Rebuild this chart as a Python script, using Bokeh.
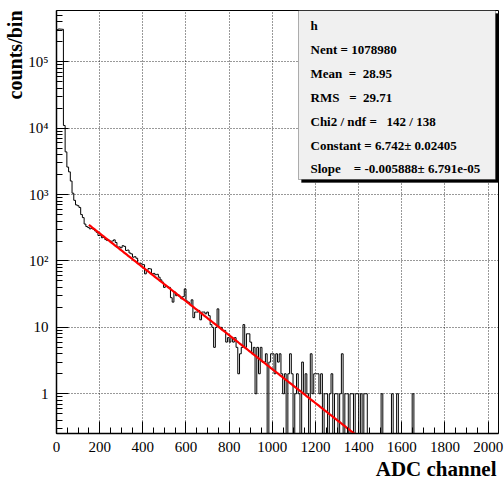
import numpy as np
from bokeh.plotting import figure
from bokeh.models import (Range1d, FixedTicker, SingleIntervalTicker, Label,
                          BoxAnnotation, Title)
from bokeh.embed import file_html
from bokeh.resources import INLINE

# ---------------- data ----------------
bin_width = 8
x_min, x_max = 0, 2048
y_min, y_max = 0.252, 5.93e5

hist_counts = [
    305000, 312000, 311000, 309000, 11000, 4400, 2600, 2200, 1600, 1050,   # 0-79
    820, 700, 680, 640, 500, 450, 360, 330, 320, 305,                       # 80-159
    310, 300, 285, 270, 242, 245, 224, 226, 210, 203,                       # 160-239
    205, 198, 200, 208, 190, 161, 163, 158, 170, 166,                       # 240-319
    144, 146, 132, 128, 114, 116, 110, 91, 93, 90,                          # 320-399
    88, 64, 72, 77, 76, 64, 65, 62, 63, 57,                                 # 400-479
    52, 48, 40, 42, 41, 40, 28, 24, 34, 30,                                 # 480-559
    31, 29, 27, 29, 38, 25, 24, 22, 26, 14,                                 # 560-639
    17, 17, 18, 13, 17, 17, 16, 17, 15, 11,                                 # 640-719
    10, 5, 10, 19, 10, 10, 9, 9, 6, 7,                                      # 720-799
    6, 7, 6, 7, 5, 2, 4, 5, 11, 5,                                          # 800-879
    8, 8, 6, 4, 5, 1, 5, 2, 5, 3,                                           # 880-959
    3, 4, 0, 3, 4, 4, 2, 4, 3, 4,                                           # 960-1039
    2, 1, 2, 0, 2, 4, 2, 0, 1, 2,                                           # 1040-1119
    1, 0, 3, 1, 2, 1, 0, 4, 1, 2,                                           # 1120-1199
    2, 2, 1, 2, 0, 1, 1, 0, 1, 2,                                           # 1200-1279
    0, 1, 1, 0, 1, 4, 0, 1, 1, 0,                                           # 1280-1359
    1, 1, 0, 1, 1, 0, 1, 0, 1, 1,                                           # 1360-1439
    0, 0, 0, 0, 0, 0, 0, 0, 1, 0,                                           # 1440-1519
    0, 0, 0, 0, 1, 0, 0, 1, 0, 0,                                           # 1520-1599
    0, 0, 0, 0, 0, 0, 1, 0, 0, 0,                                           # 1600-1679
    0, 0, 0, 0, 0, 0, 0, 0, 0, 0,                                           # 1680-1759
    0, 0, 0, 0, 0, 0, 0, 0, 0, 0,                                           # 1760-1839
    0, 0, 0, 0, 0, 0, 0, 0, 0, 0,                                           # 1840-1919
    0, 0, 0, 0, 0, 0, 0, 0, 0, 0,                                           # 1920-1999
    0, 0, 0, 0, 0, 0,                                                       # 2000-2047
]

fit_constant = 6.742
fit_slope = -0.005888
fit_x_start = 150

x_tick_interval = 200
y_major_ticks = [1, 10, 100, 1000, 10000, 100000]
y_tick_labels = ["1", "10", "10\u00b2", "10\u00b3", "10\u2074", "10\u2075"]

x_title = "ADC channel"
y_title = "counts/bin"

stats_title = "h"
stats_lines = [
    "Nent = 1078980",
    "Mean\u00a0\u00a0= \u00a028.95",
    "RMS\u00a0\u00a0\u00a0= \u00a029.71",
    "Chi2 / ndf = \u00a0\u00a0142 / 138",
    "Constant = 6.742\u00b1 0.02405",
    "Slope\u00a0\u00a0\u00a0\u00a0= -0.005888\u00b1 6.791e-05",
]

# ---------------- layout (pixels) ----------------
W, H = 504, 480
F_LEFT, F_RIGHT, F_TOP, F_BOTTOM = 56, 498, 10, 433
FONT = "Liberation Serif"

p = figure(width=W, height=H, output_backend="svg", toolbar_location=None,
           x_range=Range1d(x_min, x_max), y_range=Range1d(y_min, y_max),
           y_axis_type="log",
           min_border_left=F_LEFT, min_border_right=W - F_RIGHT,
           min_border_top=F_TOP, min_border_bottom=H - F_BOTTOM)
p.background_fill_color = "white"
p.border_fill_color = "white"
p.outline_line_color = "black"
p.outline_line_width = 1

# axes
p.xaxis.ticker = SingleIntervalTicker(interval=x_tick_interval, num_minor_ticks=4)
minor_y = [m * 10.0 ** e for e in range(-1, 6) for m in range(2, 10)
           if y_min <= m * 10.0 ** e <= y_max]
p.yaxis.ticker = FixedTicker(ticks=y_major_ticks, minor_ticks=minor_y)
p.yaxis.major_label_overrides = {t: s for t, s in zip(y_major_ticks, y_tick_labels)}

for ax in (p.xaxis[0], p.yaxis[0]):
    ax.major_tick_in = 12
    ax.major_tick_out = 0
    ax.minor_tick_in = 6
    ax.minor_tick_out = 0
    ax.axis_line_color = "black"
    ax.axis_line_width = 1.5
    ax.major_tick_line_color = "black"
    ax.minor_tick_line_color = "black"
    ax.major_label_text_font = FONT
    ax.major_label_text_font_size = "15px"
    ax.major_label_text_color = "black"
    ax.major_label_standoff = 8

# axis titles as side titles aligned to the axis end (ROOT style)
p.add_layout(Title(text=x_title, align="right", text_font=FONT,
                   text_font_style="bold", text_font_size="21px",
                   text_color="black", standoff=0, offset=2), "below")
p.add_layout(Title(text=y_title, align="right", text_font=FONT,
                   text_font_style="bold", text_font_size="20px",
                   text_color="black", standoff=0), "left")

for g in (p.xgrid, p.ygrid):
    g.grid_line_color = "black"
    g.grid_line_dash = "1 2"
    g.grid_line_width = 1
    g.grid_line_alpha = 0.8

# histogram outline
counts = np.array(hist_counts, dtype=float)
edges = x_min + bin_width * np.arange(len(counts) + 1)
floor = y_min / 10.0
ys = np.concatenate([[floor], np.repeat(np.where(counts > 0, counts, floor), 2), [floor]])
xs = np.repeat(edges, 2)
p.line(xs, ys, line_color="black", line_width=1)

# exponential fit
x_fit = np.linspace(fit_x_start, x_max, 400)
y_fit = np.exp(fit_constant + fit_slope * x_fit)
p.line(x_fit, y_fit, line_color="#ff0000", line_width=2.2)

# stats box (screen coordinates relative to frame, y up)
def sx(px):
    return px - F_LEFT

def sy(py):
    return F_BOTTOM - py

BOX_L, BOX_R, BOX_T, BOX_B = 298, 495, 10, 179
SH = 3
p.add_layout(BoxAnnotation(left=sx(BOX_L + SH), right=sx(BOX_R + SH),
                           top=sy(BOX_T + SH), bottom=sy(BOX_B + SH),
                           left_units="screen", right_units="screen",
                           top_units="screen", bottom_units="screen",
                           fill_color="black", fill_alpha=1.0, line_color="black"))
p.add_layout(BoxAnnotation(left=sx(BOX_L), right=sx(BOX_R),
                           top=sy(BOX_T), bottom=sy(BOX_B),
                           left_units="screen", right_units="screen",
                           top_units="screen", bottom_units="screen",
                           fill_color="#f0f0f0", fill_alpha=1.0,
                           line_color="black", line_width=1))

text_x = 310
row_y = [25, 49, 72.5, 96.5, 120.5, 144.5, 168]
for ty, txt in zip(row_y, [stats_title] + stats_lines):
    p.add_layout(Label(x=sx(text_x), y=sy(ty), x_units="screen", y_units="screen",
                       text=txt, text_font=FONT, text_font_style="bold",
                       text_font_size="13px", text_color="black",
                       text_align="left", text_baseline="middle"))

open("out.html", "w").write(file_html(p, INLINE))
